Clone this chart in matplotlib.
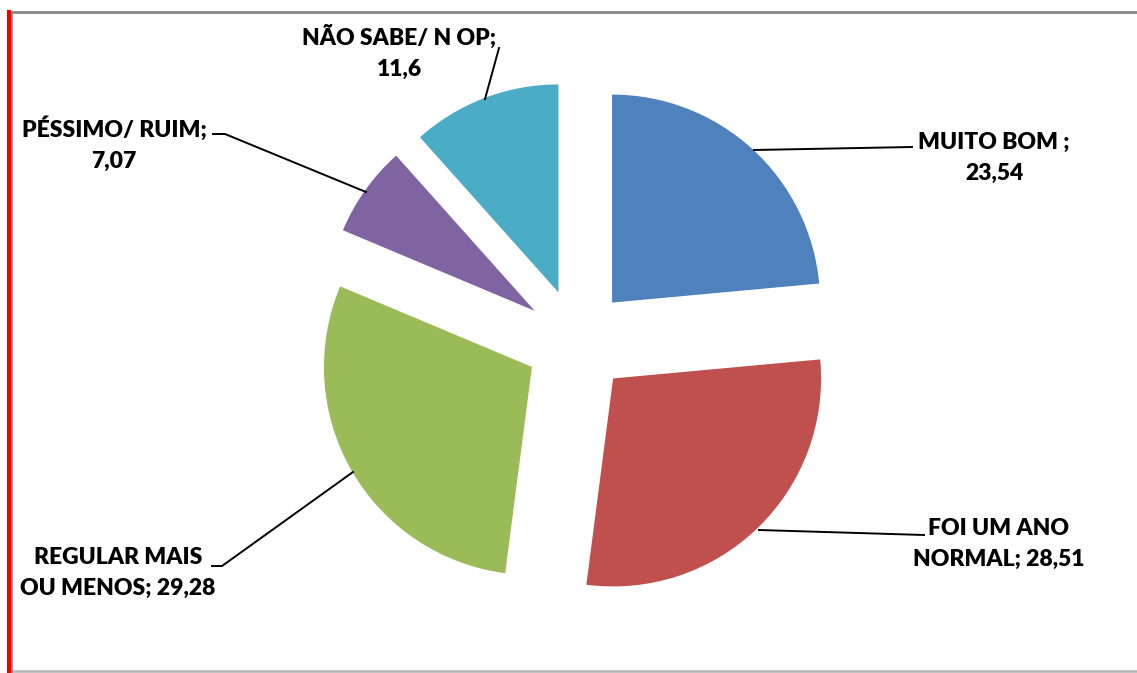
import matplotlib
matplotlib.use("Agg")
import matplotlib.pyplot as plt

categories = ["MUITO BOM ;", "FOI UM ANO\nNORMAL;", "REGULAR MAIS\nOU MENOS;",
              "PÉSSIMO/ RUIM;", "NÃO SABE/ N OP;"]
values = [23.54, 28.51, 29.28, 7.07, 11.6]
value_labels = ["23,54", "28,51", "29,28", "7,07", "11,6"]
colors = ["#4F81BD", "#C0504D", "#9BBB59", "#8064A2", "#4BACC6"]

W, H = 1137, 673
fig = plt.figure(figsize=(W / 100, H / 100), dpi=100)
ax = fig.add_axes([0, 0, 1, 1])

# pie in pixel coords (y flipped, so go counterclockwise to get clockwise on screen)
# explode is in data units here (pixels)
ax.pie(values, explode=[52] * 5, startangle=-90, counterclock=True,
       center=(577, 341), radius=208, colors=colors,
       wedgeprops=dict(linewidth=0))
ax.set_xlim(0, W)
ax.set_ylim(H, 0)
ax.set_aspect("auto")
ax.axis("off")

# frame
ax.plot([11, W], [12, 12], color="#888888", lw=2, solid_capstyle="butt")
ax.plot([11, W], [671, 671], color="#bbbbbb", lw=2, solid_capstyle="butt")
ax.plot([11, 11], [12, 673], color="#888888", lw=2)
ax.plot([8.5, 8.5], [12, 673], color="#ee0000", lw=3)

# leader lines
leaders = [
    [(754, 150), (912, 147)],
    [(759, 530), (924, 535)],
    [(353, 472), (222, 566), (212, 566)],
    [(366, 192), (225, 134), (213, 134)],
    [(485, 99), (499, 48)],
]
for pts in leaders:
    xs, ys = zip(*pts)
    ax.plot(xs, ys, color="black", lw=1.4)

label_pos = [(994, 158), (999, 544), (118, 573), (114, 144), (399, 52)]
for cat, vl, (x, y) in zip(categories, value_labels, label_pos):
    if cat.endswith(";") and "\n" not in cat:
        txt = cat + "\n" + vl
    else:
        txt = cat + " " + vl
    ax.text(x, y, txt, ha="center", va="center", multialignment="center",
            fontsize=16.5, fontweight="heavy", family=["Lato", "DejaVu Sans"],
            linespacing=1.6)

fig.savefig("out.png", dpi=100)
